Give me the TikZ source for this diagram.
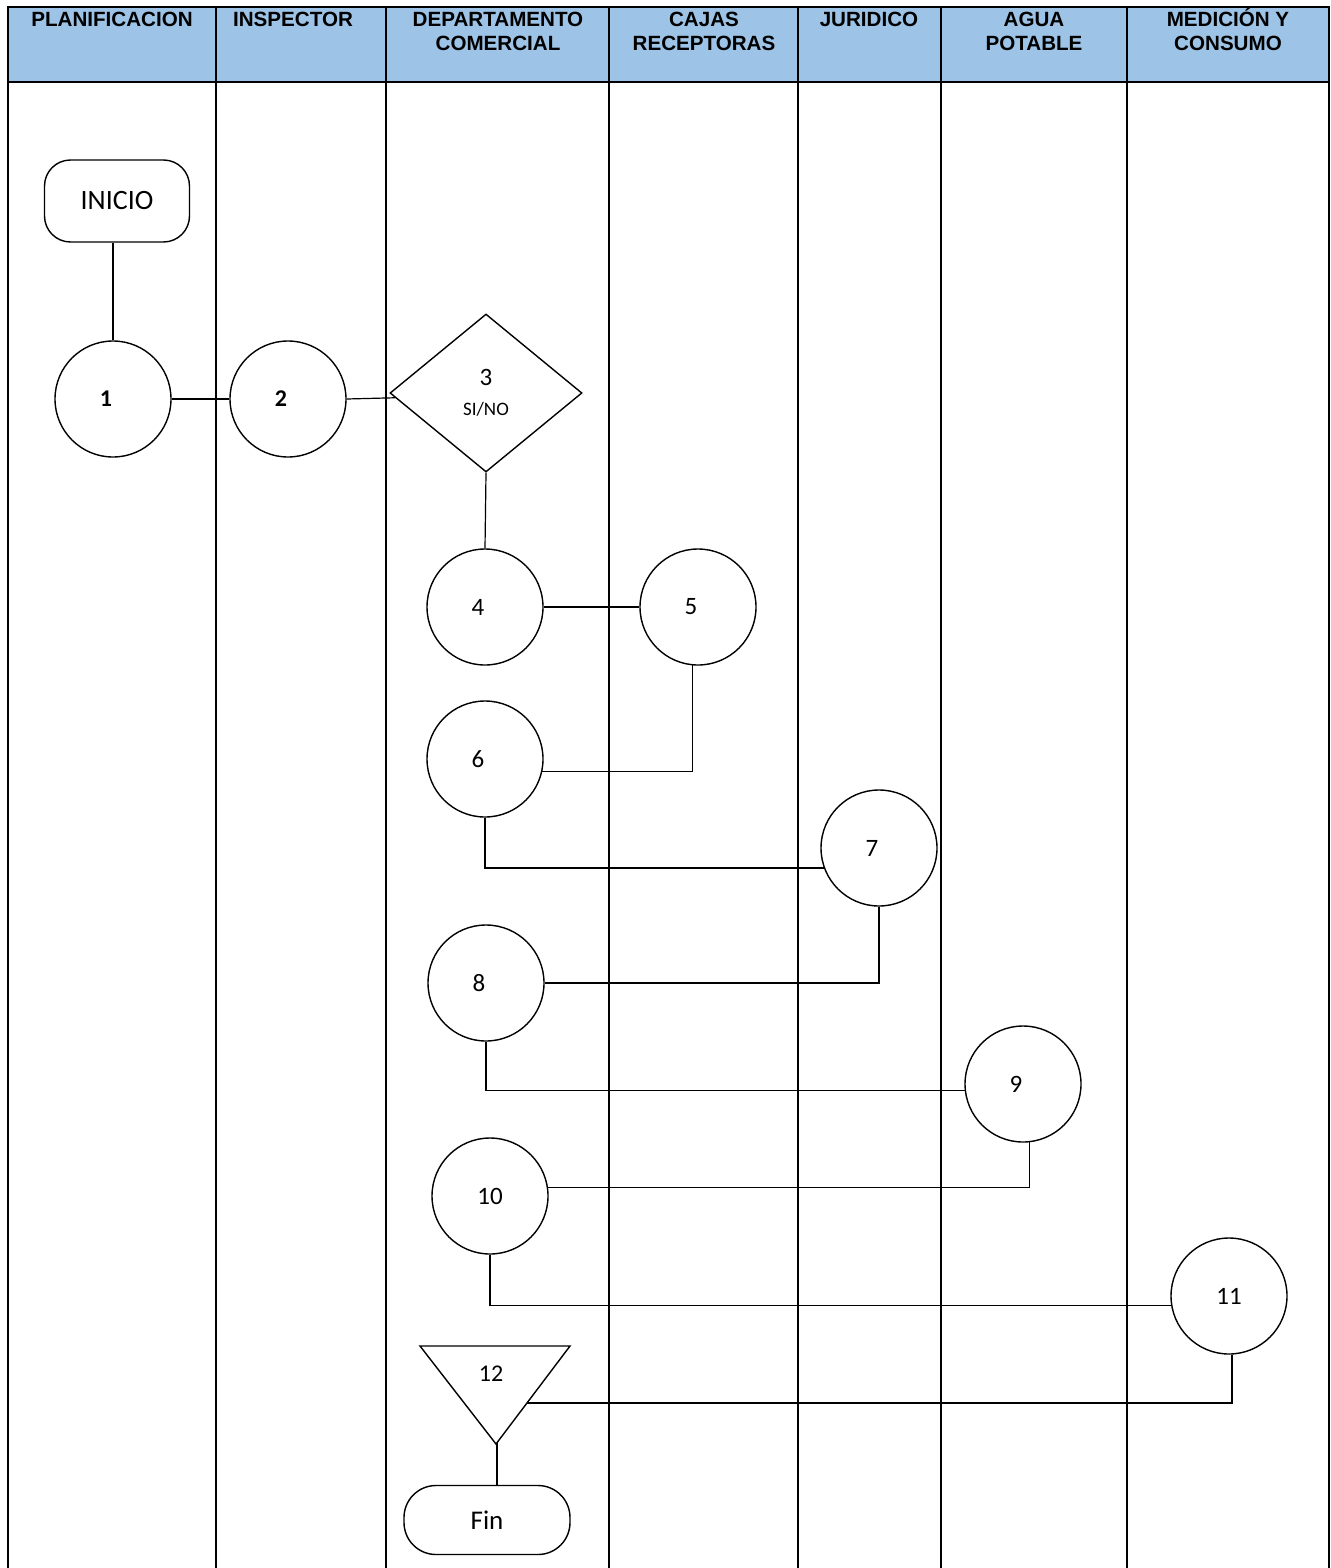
\documentclass[tikz,border=0pt]{standalone}
\usepackage{fontspec}
\setmainfont{Carlito}
\newfontfamily\headfont{Liberation Sans}
\usetikzlibrary{shapes.geometric,positioning,calc}
\definecolor{LaneBlue}{HTML}{9DC3E6}
\definecolor{LaneInk}{HTML}{000000}

\begin{document}
\begin{tikzpicture}[
      x=0.5pt,y=-0.5pt,
      lanehead/.style={anchor=north,align=center,inner sep=0pt,font=\headfont\bfseries\fontsize{10.3}{12}\selectfont},
      laneline/.style={draw=LaneInk,line width=1pt},
      stepnode/.style={circle,draw=LaneInk,line width=0.7pt,minimum size=58pt,inner sep=0pt,font=\fontsize{12.5}{14}\selectfont},
      onedigit/.style={execute at end node={\hspace*{7pt}}},
      terminal/.style={draw=LaneInk,line width=0.7pt,inner sep=0pt},
      link/.style={draw=LaneInk,line width=0.6pt}
    ]
      \useasboundingbox (0,0) rectangle (1330,1568);

      % lanes
      \fill[LaneBlue] (8,7) rectangle (1329,82);
      \draw[laneline,line width=1.2pt] (8,82) -- (1329,82);
      \draw[laneline] (216,7) -- (216,1568);
      \draw[laneline] (386,7) -- (386,1568);
      \draw[laneline] (609,7) -- (609,1568);
      \draw[laneline] (798,7) -- (798,1568);
      \draw[laneline] (941,7) -- (941,1568);
      \draw[laneline] (1127,7) -- (1127,1568);
      \draw[laneline,line width=1.4pt] (8,1568) -- (8,7) -- (1329,7) -- (1329,1568);

      \node[lanehead] (hplan) at (112,12) {PLANIFICACION};
      \node[lanehead] (hinsp) at (293,12) {INSPECTOR};
      \node[lanehead] (hcom) at (498,12) {DEPARTAMENTO\\COMERCIAL};
      \node[lanehead] (hcaja) at (704,12) {CAJAS\\RECEPTORAS};
      \node[lanehead] (hjur) at (869,12) {JURIDICO};
      \node[lanehead] (hagua) at (1034,12) {AGUA\\POTABLE};
      \node[lanehead] (hmed) at (1228,8) {MEDICIÓN Y\\CONSUMO};

      % steps
      \node[terminal,rounded corners=13pt,minimum width=72.5pt,minimum height=41pt,font=\fontsize{14}{16}\selectfont] (inicio) at (117,201) {INICIO};
      \node[stepnode,onedigit,font=\fontsize{12}{14}\selectfont\bfseries] (n1) at (113,399) {1};
      \node[stepnode,onedigit,font=\fontsize{12}{14}\selectfont\bfseries] (n2) at (288,399) {2};
      \node[diamond,draw=LaneInk,line width=0.7pt,minimum width=96pt,minimum height=79pt,inner sep=0pt,align=center,font=\fontsize{12.5}{14}\selectfont] (n3) at (486,393)
        {3\\[1pt]{\fontsize{9.5}{11}\selectfont SI/NO}};
      \node[stepnode,onedigit] (n4) at (485,607) {4};
      \node[stepnode,onedigit] (n5) at (698,607) {5};
      \node[stepnode,onedigit] (n6) at (485,759) {6};
      \node[stepnode,onedigit] (n7) at (879,848) {7};
      \node[stepnode,onedigit] (n8) at (486,983) {8};
      \node[stepnode,onedigit] (n9) at (1023,1084) {9};
      \node[stepnode] (n10) at (490,1196) {10};
      \node[stepnode] (n11) at (1229,1296) {11};

      \draw[draw=LaneInk,line width=0.7pt] (420,1346) -- (570,1346) -- (496,1444) -- cycle;
      \coordinate (t12apex) at (497,1443);
      \coordinate (t12edge) at (527,1403);
      \node[font=\fontsize{12}{14}\selectfont] (n12) at (491,1374) {12};
      \node[terminal,rounded corners=16pt,minimum width=83pt,minimum height=34.5pt,font=\fontsize{13.5}{15}\selectfont] (fin) at (487,1520) {Fin};

      % connectors
      \draw[link] (n1.north) -- (n1.north |- inicio.south);
      \draw[link] (n1.east) -- (n2.west);
      \draw[link] (n2.east) -- (n3.183);
      \draw[link] (n3.south) -- (n4.north);
      \draw[link] (n4.east) -- (n5.west);
      \draw[link] (n5.265) |- (n6.-12);
      \draw[link] (n6.south) |- (n7.200);
      \draw[link] (n7.south) |- (n8.east);
      \draw[link] (n8.south) |- (n9.186);
      \draw[link] (n9.-84) |- (n10.8);
      \draw[link] (n10.south) |- (n11.189);
      \draw[link] (n11.-87) |- (t12edge);
      \draw[link] (t12apex) -- (t12apex |- fin.north);
    \end{tikzpicture}
\end{document}
